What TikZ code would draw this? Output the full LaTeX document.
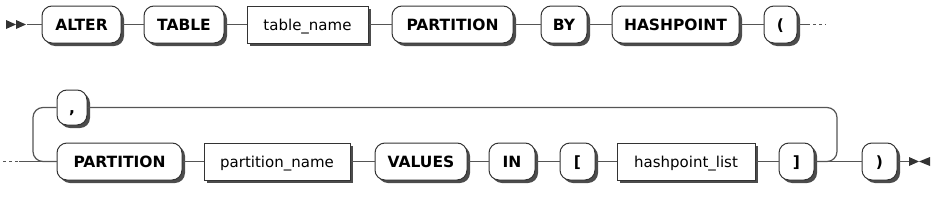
\documentclass[tikz,border=0pt]{standalone}
\usepackage{fontspec}
\setmainfont{DejaVu Sans}
\usetikzlibrary{shadows}
\definecolor{linec}{HTML}{555555}
\definecolor{boxc}{HTML}{333333}
\begin{document}
\begin{tikzpicture}[x=1pt,y=-1pt,
  font=\fontsize{15}{18}\selectfont,
  base/.style={draw=boxc, line width=1pt, fill=white, inner sep=0pt, minimum height=37pt,
    text height=11.5pt, text depth=0pt,
    general shadow={shadow xshift=3pt, shadow yshift=-3pt, fill=black!70}},
  kw/.style={base, rounded corners=10pt, font=\fontsize{15.5}{18}\selectfont\bfseries},
  nt/.style={base},
  conn/.style={draw=linec, line width=1.2pt},
  dots/.style={draw=linec, line width=1.2pt, dash pattern=on 3pt off 3pt},
  endmark/.style={fill=boxc, draw=none}]
\useasboundingbox (0,0) rectangle (938,204);
% row 1
\node[kw, minimum width=79pt]  (alter) at (81.5,24.5) {ALTER};
\node[kw, minimum width=80pt]  (table) at (184,24.5) {TABLE};
\node[nt, minimum width=121pt] (tname) at (307.5,24.5) {table\_name};
\node[kw, minimum width=121pt] (part1) at (452.5,24.5) {PARTITION};
\node[kw, minimum width=46pt]  (by) at (564,24.5) {BY};
\node[kw, minimum width=127pt] (hash) at (675.5,24.5) {HASHPOINT};
\node[kw, minimum width=33pt]  (lparen) at (780.5,24.5) {(};
\coordinate (s) at (27,24.5);
\coordinate (d1) at (807,24.5);
\coordinate (d2) at (826,24.5);
\fill[endmark] (6,20) -- (16,24.5) -- (6,29) -- cycle;
\fill[endmark] (16,20) -- (26,24.5) -- (16,29) -- cycle;
\draw[conn] (s) -- (alter);
\draw[conn] (alter) -- (table);
\draw[conn] (table) -- (tname);
\draw[conn] (tname) -- (part1);
\draw[conn] (part1) -- (by);
\draw[conn] (by) -- (hash);
\draw[conn] (hash) -- (lparen);
\draw[conn] (lparen) -- (d1);
\draw[dots] (d1) -- (d2);
% row 2
\node[kw, minimum width=125pt] (part2) at (119.5,161.5) {PARTITION};
\node[nt, minimum width=146pt] (pname) at (277,161.5) {partition\_name};
\node[kw, minimum width=92pt]  (values) at (421,161.5) {VALUES};
\node[kw, minimum width=46pt]  (in) at (512,161.5) {IN};
\node[kw, minimum width=35pt]  (lbrack) at (577.5,161.5) {[};
\node[nt, minimum width=138pt] (hlist) at (686,161.5) {hashpoint\_list};
\node[kw, minimum width=35pt]  (rbrack) at (796.5,161.5) {]};
\node[kw, minimum width=35pt]  (rparen) at (879.5,161.5) {)};
\node[kw, minimum width=30pt, minimum height=35pt] (comma) at (72,107.5) {,};
\coordinate (e0) at (3,161.5);
\coordinate (e1) at (19,161.5);
\coordinate (ll) at (33,161.5);
\coordinate (lr) at (837,107.5);
\coordinate (fin) at (909,161.5);
\draw[dots] (e0) -- (e1);
\draw[conn] (e1) -- (part2);
\draw[conn] (part2) -- (pname);
\draw[conn] (pname) -- (values);
\draw[conn] (values) -- (in);
\draw[conn] (in) -- (lbrack);
\draw[conn] (lbrack) -- (hlist);
\draw[conn] (hlist) -- (rbrack);
\draw[conn] (rbrack) -- (rparen);
\draw[conn] (rparen) -- (fin);
\draw[conn, rounded corners=10pt] (rbrack.east) -| (lr) -- (comma.east);
\draw[conn, rounded corners=10pt] (comma.west) -| (ll) -- (part2.west);
\fill[endmark] (909,157) -- (919,161.5) -- (909,166) -- cycle;
\fill[endmark] (930,157) -- (919,161.5) -- (930,166) -- cycle;
\end{tikzpicture}
\end{document}
